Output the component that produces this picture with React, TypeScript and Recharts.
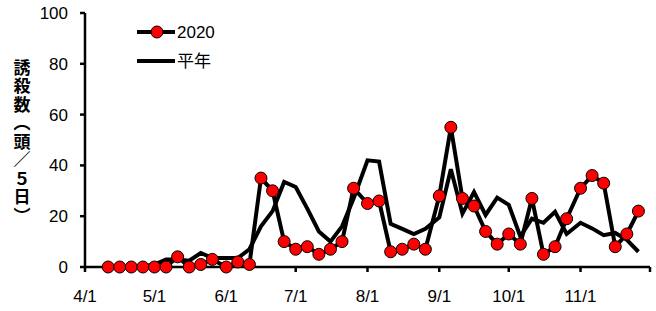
import { LineChart, Line, XAxis, YAxis, Legend } from "recharts";

// start date of each 5-day period (半旬)
const periods = [
  "4/11", "4/16", "4/21", "4/26",
  "5/1", "5/6", "5/11", "5/16", "5/21", "5/26",
  "6/1", "6/6", "6/11", "6/16", "6/21", "6/26",
  "7/1", "7/6", "7/11", "7/16", "7/21", "7/26",
  "8/1", "8/6", "8/11", "8/16", "8/21", "8/26",
  "9/1", "9/6", "9/11", "9/16", "9/21", "9/26",
  "10/1", "10/6", "10/11", "10/16", "10/21", "10/26",
  "11/1", "11/6", "11/11", "11/16", "11/21", "11/26",
];

const counts2020 = [
  0, 0, 0, 0,
  0, 0, 4, 0, 1, 3,
  0, 2, 1, 35, 30, 10,
  7, 8, 5, 7, 10, 31,
  25, 26, 6, 7, 9, 7,
  28, 55, 27, 24, 14, 9,
  13, 9, 27, 5, 8, 19,
  31, 36, 33, 8, 13, 22,
];

const countsNormal = [
  0, 0, 0, 0.3,
  1, 3, 3, 2.5, 5.5, 3.5,
  3.5, 3.5, 7, 16, 22, 33.5,
  31.5, 23, 14, 10, 16, 27,
  42, 41.5, 17, 15, 13, 15,
  19.5, 38.5, 21, 29.5, 20.5, 27.3,
  24.5, 12, 19, 17.4, 21.7, 13,
  17.4, 15.2, 12.5, 13.4, 10.7, 6,
];

const monthTicks = ["4/1", "5/1", "6/1", "7/1", "8/1", "9/1", "10/1", "11/1", "12/1"];
const yTicks = [0, 20, 40, 60, 80, 100];

const yTitle = "誘殺数（頭／５日）";

const MONTH_START: Record<number, number> = { 4: 0, 5: 30, 6: 61, 7: 91, 8: 122, 9: 153, 10: 183, 11: 214, 12: 244 };

function dayOffset(md: string) {
  const [m, d] = md.split("/").map(Number);
  return MONTH_START[m] + d - 1;
}

const data = periods.map((p, i) => ({
  day: dayOffset(p),
  y2020: counts2020[i],
  normal: countsNormal[i],
}));

const tickDays = monthTicks.map(dayOffset);
const tickLabel = (v: number) => {
  const i = tickDays.indexOf(v);
  return i < 0 || i === monthTicks.length - 1 ? "" : monthTicks[i];
};

const FONT = "'Liberation Sans', Arial, 'Noto Sans CJK JP', sans-serif";

function LegendBox() {
  return (
    <svg width={100} height={50} style={{ overflow: "visible" }}>
      <line x1={7} y1={14} x2={45} y2={14} stroke="#000" strokeWidth={4} />
      <circle cx={27} cy={14} r={6} fill="#FF0000" stroke="#000" strokeWidth={1} />
      <text x={47} y={14} dy="0.355em" fontSize={17} fontFamily={FONT} fill="#000">2020</text>
      <line x1={7} y1={43} x2={45} y2={43} stroke="#000" strokeWidth={4} />
      <text x={47} y={43} dy="0.355em" fontSize={17} fontFamily={FONT} fill="#000">平年</text>
    </svg>
  );
}

export default function App() {
  return (
    <div style={{ position: "absolute", left: 0, top: 0, width: 656, height: 311, background: "#fff" }}>
      <LineChart width={656} height={311} data={data} margin={{ top: 13, right: 6, bottom: 0, left: 0 }}>
        <XAxis
          dataKey="day"
          type="number"
          domain={[0, 244]}
          ticks={tickDays}
          tickFormatter={tickLabel}
          interval={0}
          height={44}
          stroke="#000"
          strokeWidth={2.5}
          tickSize={5}
          tickMargin={18}
          tick={{ fill: "#000", fontSize: 17, fontFamily: FONT }}
        />
        <YAxis
          domain={[0, 100]}
          ticks={yTicks}
          width={85}
          stroke="#000"
          strokeWidth={2.5}
          tickSize={5}
          tickMargin={12}
          tick={{ fill: "#000", fontSize: 17, fontFamily: FONT }}
        />
        <Legend
          layout="vertical"
          align="center"
          verticalAlign="middle"
          wrapperStyle={{ left: 130, top: 18, width: 100 }}
          content={() => <LegendBox />}
        />
        <Line
          dataKey="normal"
          stroke="#000"
          strokeWidth={4}
          dot={false}
          isAnimationActive={false}
        />
        <Line
          dataKey="y2020"
          stroke="#000"
          strokeWidth={4}
          dot={{ r: 6, fill: "#FF0000", stroke: "#000", strokeWidth: 1 }}
          isAnimationActive={false}
        />
      </LineChart>
      <svg width={40} height={311} style={{ position: "absolute", left: 0, top: 0, pointerEvents: "none" }}>
        <text
          x={22}
          y={59}
          fontSize={17}
          fontWeight="bold"
          fontFamily="'Noto Sans CJK JP', sans-serif"
          fill="#000"
          letterSpacing={1.5}
          style={{ writingMode: "vertical-rl" }}
        >
          {yTitle}
        </text>
      </svg>
    </div>
  );
}
